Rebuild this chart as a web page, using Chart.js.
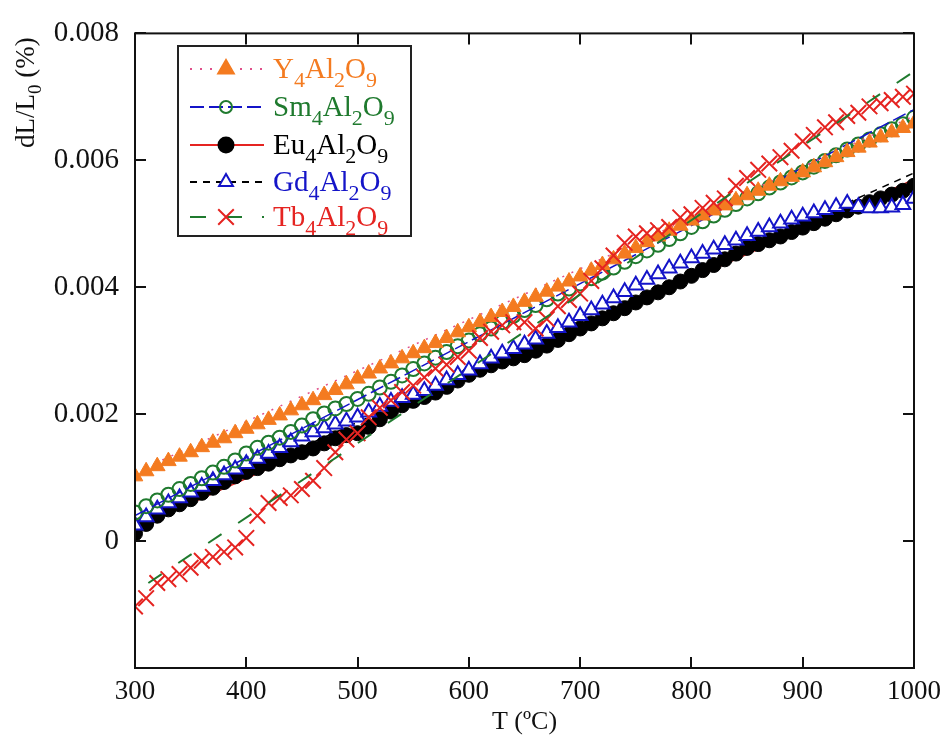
<!DOCTYPE html>
<html>
<head>
<meta charset="utf-8">
<script src="https://cdn.jsdelivr.net/npm/chart.js@4.4.0/dist/chart.umd.min.js"></script>
<style>
  html, body { margin: 0; padding: 0; background: #fff; }
</style>
</head>
<body>
<canvas id="chart" width="949" height="740"></canvas>
<script>
// temperature steps (ºC)
const temps = [300, 310, 320, 330, 340, 350, 360, 370, 380, 390,
  400, 410, 420, 430, 440, 450, 460, 470, 480, 490,
  500, 510, 520, 530, 540, 550, 560, 570, 580, 590,
  600, 610, 620, 630, 640, 650, 660, 670, 680, 690,
  700, 710, 720, 730, 740, 750, 760, 770, 780, 790,
  800, 810, 820, 830, 840, 850, 860, 870, 880, 890,
  900, 910, 920, 930, 940, 950, 960, 970, 980, 990, 1000];

// dL/L0 (%) for each compound
const y4 = [0.00102, 0.00110, 0.00118, 0.00126, 0.00133, 0.00140, 0.00148, 0.00155, 0.00162, 0.00170,
  0.00177, 0.00184, 0.00191, 0.00198, 0.00206, 0.00214, 0.00222, 0.00230, 0.00238, 0.00247,
  0.00256, 0.00264, 0.00272, 0.00280, 0.00288, 0.00296, 0.00304, 0.00312, 0.00320, 0.00329,
  0.00337, 0.00345, 0.00353, 0.00361, 0.00369, 0.00377, 0.00385, 0.00393, 0.00401, 0.00409,
  0.00417, 0.00426, 0.00435, 0.00444, 0.00453, 0.00462, 0.00471, 0.00480, 0.00489, 0.00497,
  0.00505, 0.00513, 0.00521, 0.00529, 0.00537, 0.00545, 0.00552, 0.00560, 0.00567, 0.00574,
  0.00581, 0.00589, 0.00597, 0.00605, 0.00613, 0.00620, 0.00628, 0.00636, 0.00644, 0.00651, 0.00658];

const sm4 = [0.00045, 0.00055, 0.00064, 0.00073, 0.00082, 0.00090, 0.00099, 0.00108, 0.00117, 0.00127,
  0.00138, 0.00147, 0.00155, 0.00163, 0.00172, 0.00182, 0.00192, 0.00201, 0.00209, 0.00216,
  0.00224, 0.00232, 0.00242, 0.00251, 0.00261, 0.00271, 0.00280, 0.00289, 0.00298, 0.00307,
  0.00316, 0.00326, 0.00335, 0.00345, 0.00355, 0.00364, 0.00372, 0.00381, 0.00390, 0.00398,
  0.00406, 0.00414, 0.00423, 0.00431, 0.00440, 0.00449, 0.00458, 0.00467, 0.00476, 0.00485,
  0.00495, 0.00504, 0.00513, 0.00522, 0.00531, 0.00540, 0.00548, 0.00557, 0.00565, 0.00573,
  0.00581, 0.00590, 0.00599, 0.00608, 0.00617, 0.00625, 0.00633, 0.00641, 0.00649, 0.00657, 0.00667];

const eu4 = [0.00012, 0.00027, 0.00040, 0.00050, 0.00058, 0.00066, 0.00076, 0.00084, 0.00093, 0.00102,
  0.00109, 0.00115, 0.00122, 0.00129, 0.00135, 0.00140, 0.00146, 0.00154, 0.00162, 0.00167,
  0.00170, 0.00180, 0.00192, 0.00204, 0.00214, 0.00221, 0.00227, 0.00234, 0.00243, 0.00253,
  0.00262, 0.00270, 0.00277, 0.00283, 0.00288, 0.00293, 0.00300, 0.00308, 0.00317, 0.00326,
  0.00335, 0.00343, 0.00351, 0.00359, 0.00367, 0.00376, 0.00384, 0.00392, 0.00400, 0.00409,
  0.00418, 0.00427, 0.00435, 0.00444, 0.00453, 0.00462, 0.00468, 0.00474, 0.00480, 0.00487,
  0.00494, 0.00501, 0.00508, 0.00515, 0.00521, 0.00527, 0.00534, 0.00540, 0.00546, 0.00552, 0.00560];

const gd4 = [0.00025, 0.00038, 0.00050, 0.00060, 0.00068, 0.00077, 0.00086, 0.00095, 0.00104, 0.00113,
  0.00122, 0.00130, 0.00138, 0.00147, 0.00156, 0.00165, 0.00172, 0.00178, 0.00184, 0.00189,
  0.00195, 0.00203, 0.00212, 0.00220, 0.00226, 0.00231, 0.00237, 0.00245, 0.00254, 0.00262,
  0.00269, 0.00279, 0.00288, 0.00296, 0.00303, 0.00310, 0.00318, 0.00327, 0.00336, 0.00345,
  0.00355, 0.00364, 0.00373, 0.00383, 0.00393, 0.00403, 0.00412, 0.00421, 0.00430, 0.00438,
  0.00446, 0.00453, 0.00460, 0.00467, 0.00474, 0.00481, 0.00488, 0.00495, 0.00501, 0.00507,
  0.00512, 0.00517, 0.00522, 0.00527, 0.00532, 0.00527, 0.00525, 0.00525, 0.00526, 0.00530, 0.00540];

const tb4 = [-0.00103, -0.00090, -0.00066, -0.00060, -0.00052, -0.00042, -0.00031, -0.00025, -0.00017, -0.00010,
  0.00005, 0.00040, 0.00060, 0.00068, 0.00072, 0.00082, 0.00095, 0.00115, 0.00140, 0.00160,
  0.00170, 0.00195, 0.00210, 0.00222, 0.00235, 0.00245, 0.00258, 0.00272, 0.00278, 0.00290,
  0.00300, 0.00320, 0.00330, 0.00340, 0.00345, 0.00345, 0.00335, 0.00350, 0.00370, 0.00380,
  0.00390, 0.00410, 0.00430, 0.00450, 0.00470, 0.00480, 0.00485, 0.00490, 0.00495, 0.00510,
  0.00515, 0.00525, 0.00533, 0.00540, 0.00560, 0.00572, 0.00585, 0.00595, 0.00605, 0.00615,
  0.00630, 0.00640, 0.00652, 0.00660, 0.00670, 0.00675, 0.00685, 0.00690, 0.00695, 0.00700, 0.00705];

// linear fits (end points)
const fitT = [300, 1000];
const y4Fit = [0.00108, 0.00670];
const sm4Fit = [0.00040, 0.00680];
const eu4Fit = [0.00020, 0.00570];
const gd4Fit = [0.00030, 0.00580];
const tbFitT = [312, 1000];
const tb4Fit = [-0.00066, 0.00740];

const names = ['Y4Al2O9', 'Sm4Al2O9', 'Eu4Al2O9', 'Gd4Al2O9', 'Tb4Al2O9'];
const xTicks = [300, 400, 500, 600, 700, 800, 900, 1000];
const yTicks = [-0.002, 0, 0.002, 0.004, 0.006, 0.008];

const ORANGE = '#f47b20', GREEN = '#1f7a2e', BLUE = '#1414c8', RED = '#e52421', PINK = '#e0508a';
const FONT = '"Liberation Serif", "Times New Roman", serif';

function pts(xs, ys) { return xs.map((x, i) => ({ x: x, y: ys[i] })); }

function markerSet(label, data, style, r, fill, stroke, bw, order) {
  return {
    label: label, data: pts(temps, data), showLine: false, order: order,
    pointStyle: style, pointRadius: r, pointHoverRadius: r,
    pointBackgroundColor: fill, pointBorderColor: stroke, pointBorderWidth: bw
  };
}
function fitSet(label, xs, ys, color, dash, width, order) {
  return {
    label: label, data: pts(xs, ys), showLine: true, order: order,
    borderColor: color, borderWidth: width, borderDash: dash, pointRadius: 0, fill: false
  };
}

// legend rows: [name, text colour, line colour, dash, marker style, fill, stroke, radius]
const legendRows = [
  [names[0], ORANGE, PINK, [2, 8], 'triangle', ORANGE, ORANGE, 9],
  [names[1], GREEN, BLUE, [14, 5], 'circle', 'rgba(0,0,0,0)', GREEN, 6],
  [names[2], '#000', RED, [], 'circle', '#000', '#000', 7.5],
  [names[3], BLUE, '#000', [7, 6], 'triangle', '#fff', BLUE, 8],
  [names[4], RED, GREEN, [16, 20], 'crossRot', RED, RED, 11]
];

function drawMarker(ctx, style, x, y, r, fill, stroke, bw) {
  ctx.save();
  ctx.beginPath();
  ctx.lineWidth = bw;
  ctx.strokeStyle = stroke;
  ctx.fillStyle = fill;
  ctx.setLineDash([]);
  if (style === 'triangle') {
    for (let k = 0; k < 3; k++) {
      const a = k * 2 * Math.PI / 3;
      const px = x + Math.sin(a) * r, py = y - Math.cos(a) * r;
      if (k === 0) ctx.moveTo(px, py); else ctx.lineTo(px, py);
    }
    ctx.closePath(); ctx.fill(); ctx.stroke();
  } else if (style === 'circle') {
    ctx.arc(x, y, r, 0, Math.PI * 2);
    ctx.fill(); ctx.stroke();
  } else {
    const o = Math.cos(Math.PI / 4) * r;
    ctx.moveTo(x - o, y - o); ctx.lineTo(x + o, y + o);
    ctx.moveTo(x + o, y - o); ctx.lineTo(x - o, y + o);
    ctx.stroke();
  }
  ctx.restore();
}

// draws a formula such as Y4Al2O9 with digits as subscripts
function drawChem(ctx, text, x, y, color, size) {
  ctx.fillStyle = color;
  ctx.textAlign = 'left';
  ctx.textBaseline = 'alphabetic';
  const parts = text.match(/\d+|\D+/g);
  parts.forEach(p => {
    const sub = /\d/.test(p);
    ctx.font = (sub ? Math.round(size * 0.75) : size) + 'px ' + FONT;
    ctx.fillText(p, x, y + (sub ? size * 0.3 : 0));
    x += ctx.measureText(p).width;
  });
  return x;
}

const decor = {
  id: 'decor',
  afterDraw(chart) {
    const ctx = chart.ctx, a = chart.chartArea;
    const xs = chart.scales.x, ys = chart.scales.y;
    ctx.save();
    // frame and inward ticks
    ctx.strokeStyle = '#111';
    ctx.lineWidth = 2;
    ctx.setLineDash([]);
    ctx.strokeRect(a.left, a.top, a.right - a.left, a.bottom - a.top);
    ctx.beginPath();
    xTicks.forEach(t => {
      const px = Math.round(xs.getPixelForValue(t));
      ctx.moveTo(px, a.bottom); ctx.lineTo(px, a.bottom - 11);
      ctx.moveTo(px, a.top); ctx.lineTo(px, a.top + 11);
    });
    yTicks.forEach(t => {
      const py = Math.round(ys.getPixelForValue(t));
      ctx.moveTo(a.left, py); ctx.lineTo(a.left + 11, py);
      ctx.moveTo(a.right, py); ctx.lineTo(a.right - 11, py);
    });
    ctx.stroke();

    // axis titles
    ctx.fillStyle = '#111';
    ctx.font = '26px ' + FONT;
    ctx.textAlign = 'center';
    ctx.textBaseline = 'alphabetic';
    ctx.fillText('T (ºC)', (a.left + a.right) / 2, 729);

    ctx.save();
    ctx.translate(34, 148);
    ctx.rotate(-Math.PI / 2);
    let tx = 0;
    ctx.textAlign = 'left';
    ctx.font = '27px ' + FONT;
    ctx.fillText('dL/L', tx, 0); tx += ctx.measureText('dL/L').width;
    ctx.font = '19px ' + FONT;
    ctx.fillText('0', tx, 7); tx += ctx.measureText('0').width;
    ctx.font = '27px ' + FONT;
    ctx.fillText(' (%)', tx, 0);
    ctx.restore();

    // legend box
    ctx.fillStyle = '#fff';
    ctx.fillRect(178, 46, 233, 190);
    ctx.strokeStyle = '#222';
    ctx.lineWidth = 2;
    ctx.strokeRect(178, 46, 233, 190);
    const rowsY = [69, 107, 145, 182, 217];
    legendRows.forEach((r, i) => {
      const y = rowsY[i];
      ctx.save();
      ctx.strokeStyle = r[2];
      ctx.lineWidth = 2;
      ctx.setLineDash(r[3]);
      ctx.beginPath();
      ctx.moveTo(190, y); ctx.lineTo(264, y);
      ctx.stroke();
      ctx.restore();
      drawMarker(ctx, r[4], 226, y, r[7], r[5], r[6], 2);
      drawChem(ctx, r[0], 273, y + 9, r[1], 29);
    });
    ctx.restore();
  }
};

const ctx = document.getElementById('chart').getContext('2d');

const config = {
  type: 'scatter',
  data: {
    datasets: [
      fitSet('Tb4Al2O9 fit', tbFitT, tb4Fit, GREEN, [16, 20], 2, 0),
      markerSet(names[4], tb4, 'crossRot', 11, RED, RED, 2, 1),
      markerSet(names[0], y4, 'triangle', 9, ORANGE, ORANGE, 1, 2),
      fitSet('Y4Al2O9 fit', fitT, y4Fit, PINK, [2, 8], 1.5, 3),
      fitSet('Sm4Al2O9 fit', fitT, sm4Fit, BLUE, [14, 5], 1.5, 3),
      markerSet(names[1], sm4, 'circle', 7, 'rgba(0,0,0,0)', GREEN, 2, 4),
      markerSet(names[3], gd4, 'triangle', 8.5, '#fff', BLUE, 2, 5),
      fitSet('Gd4Al2O9 fit', fitT, gd4Fit, '#000', [7, 6], 1.5, 6),
      markerSet(names[2], eu4, 'circle', 7.5, '#000', '#000', 1, 7),
      fitSet('Eu4Al2O9 fit', fitT, eu4Fit, RED, [], 1.5, 8)
    ]
  },
  options: {
    responsive: false,
    animation: false,
    layout: { padding: { top: 17, right: 31, left: 0, bottom: 0 } },
    plugins: {
      legend: { display: false },
      tooltip: { enabled: false }
    },
    scales: {
      x: {
        type: 'linear',
        min: 300,
        max: 1000,
        afterBuildTicks: s => { s.ticks = xTicks.map(v => ({ value: v })); },
        afterFit: s => { s.height = 72; },
        grid: { display: false, drawTicks: false },
        border: { display: false },
        ticks: {
          color: '#111',
          padding: 8,
          maxRotation: 0,
          font: { family: FONT, size: 27 },
          callback: v => String(v)
        }
      },
      y: {
        type: 'linear',
        min: -0.002,
        max: 0.008,
        afterBuildTicks: s => { s.ticks = yTicks.map(v => ({ value: v })); },
        afterFit: s => { s.width = 135; },
        grid: { display: false, drawTicks: false },
        border: { display: false },
        ticks: {
          color: '#111',
          padding: 16,
          font: { family: FONT, size: 29 },
          callback: v => {
            if (v < -0.001) return '';
            if (Math.abs(v) < 1e-9) return '0';
            return v.toFixed(3);
          }
        }
      }
    }
  },
  plugins: [decor]
};

const myChart = new Chart(ctx, config);
</script>
</body>
</html>
